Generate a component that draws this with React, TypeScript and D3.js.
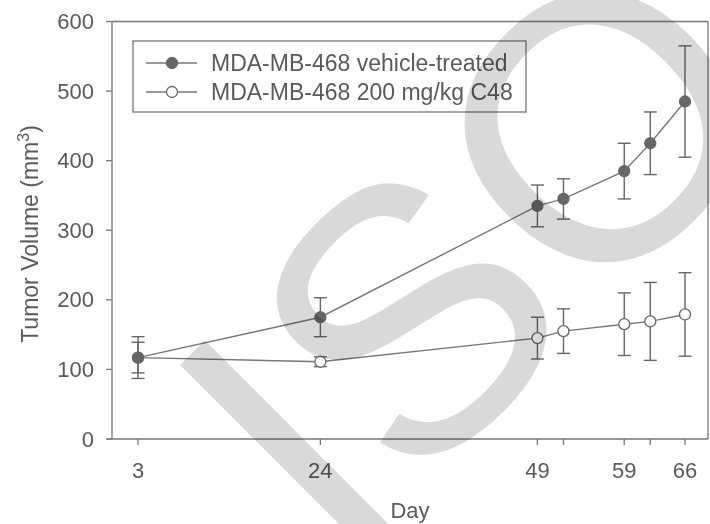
import React from "react";
import * as d3 from "d3";

// sampling days (the two unlabeled ticks are 52 and 62)
const days = [3, 24, 49, 52, 59, 62, 66];
const labeledDays = [3, 24, 49, 59, 66];

const vehicleMean = [117, 175, 335, 345, 385, 425, 485];
const vehicleErr = [30, 28, 30, 29, 40, 45, 80];

const c48Mean = [117, 111, 145, 155, 165, 169, 179];
const c48Err = [22, 7, 30, 32, 45, 56, 60];

const yTicks = [0, 100, 200, 300, 400, 500, 600];

const seriesNames = ["MDA-MB-468 vehicle-treated", "MDA-MB-468 200 mg/kg C48"];

const FONT = "'Liberation Sans', Arial, sans-serif";
const TEXT = "#5a5a5a";
const AXIS = "#777";
const MARK = "#666";

export default function App() {
  const W = 710;
  const H = 524;
  const frameRight = 708;

  const x = d3.scaleLinear().domain([0, 66]).range([112, 685]);
  const y = d3.scaleLinear().domain([0, 600]).range([439, 21.5]);

  const line = d3
    .line<number>()
    .x((_, i) => x(days[i]))
    .y((v) => y(v));

  const series = [
    { mean: c48Mean, err: c48Err, filled: false },
    { mean: vehicleMean, err: vehicleErr, filled: true },
  ];

  const cap = 6.5;
  const r = 5.5;

  return (
    <svg
      width={W}
      height={H}
      style={{ position: "absolute", left: 0, top: 0, background: "#fff" }}
      fontFamily={FONT}
    >
      {/* frame */}
      <line x1={x(0)} x2={frameRight} y1={y(600)} y2={y(600)} stroke={AXIS} strokeWidth={1.3} />
      <line x1={frameRight} x2={frameRight} y1={y(600)} y2={y(0)} stroke={AXIS} strokeWidth={1.3} />

      {/* y axis */}
      <line x1={x(0)} x2={x(0)} y1={y(600)} y2={y(0)} stroke={AXIS} strokeWidth={1.3} />
      {yTicks.map((t) => (
        <g key={t}>
          <line x1={x(0) - 6} x2={x(0)} y1={y(t)} y2={y(t)} stroke={AXIS} strokeWidth={1.3} />
          <text x={94} y={y(t) + 7.5} textAnchor="end" fontSize={22} fill={TEXT}>
            {t}
          </text>
        </g>
      ))}

      {/* x axis */}
      <line x1={x(0) - 5} x2={frameRight} y1={y(0)} y2={y(0)} stroke={AXIS} strokeWidth={1.3} />
      {days.map((d) => (
        <line key={d} x1={x(d)} x2={x(d)} y1={y(0)} y2={y(0) + 6} stroke={AXIS} strokeWidth={1.3} />
      ))}
      {labeledDays.map((d) => (
        <text key={d} x={x(d)} y={478} textAnchor="middle" fontSize={22} fill={TEXT}>
          {d}
        </text>
      ))}

      <text x={410} y={518} textAnchor="middle" fontSize={22} fill={TEXT}>
        Day
      </text>
      <text transform="translate(38,234) rotate(-90)" textAnchor="middle" fontSize={23} fill={TEXT}>
        Tumor Volume (mm
        <tspan fontSize={16} dy={-9}>
          3
        </tspan>
        <tspan dy={9}>)</tspan>
      </text>

      {/* series */}
      {series.map((s, k) => (
        <g key={k}>
          <path d={line(s.mean) || ""} fill="none" stroke={AXIS} strokeWidth={1.4} />
          {s.mean.map((v, i) => (
            <g key={i} stroke={MARK} strokeWidth={1.4}>
              <line x1={x(days[i])} x2={x(days[i])} y1={y(v + s.err[i])} y2={y(v - s.err[i])} />
              <line x1={x(days[i]) - cap} x2={x(days[i]) + cap} y1={y(v + s.err[i])} y2={y(v + s.err[i])} />
              <line x1={x(days[i]) - cap} x2={x(days[i]) + cap} y1={y(v - s.err[i])} y2={y(v - s.err[i])} />
            </g>
          ))}
          {s.mean.map((v, i) => (
            <circle
              key={"m" + i}
              cx={x(days[i])}
              cy={y(v)}
              r={r}
              fill={s.filled ? MARK : "#fff"}
              stroke={MARK}
              strokeWidth={1.3}
            />
          ))}
        </g>
      ))}

      {/* legend */}
      <rect x={133} y={41} width={393} height={71} fill="#fff" stroke={AXIS} strokeWidth={1.3} />
      {seriesNames.map((name, i) => {
        const ly = 63 + i * 29;
        return (
          <g key={name}>
            <line x1={146} x2={197} y1={ly} y2={ly} stroke={AXIS} strokeWidth={1.4} />
            <circle cx={172} cy={ly} r={r} fill={i === 0 ? MARK : "#fff"} stroke={MARK} strokeWidth={1.3} />
            <text x={211} y={ly + 8} fontSize={23} fill={TEXT}>
              {name}
            </text>
          </g>
        );
      })}

      {/* watermark */}
      <text
        transform="translate(338,572) rotate(-45)"
        fontSize={375}
        fill="#d9d9d9"
        style={{ mixBlendMode: "multiply" }}
      >
        ISO
      </text>
    </svg>
  );
}
